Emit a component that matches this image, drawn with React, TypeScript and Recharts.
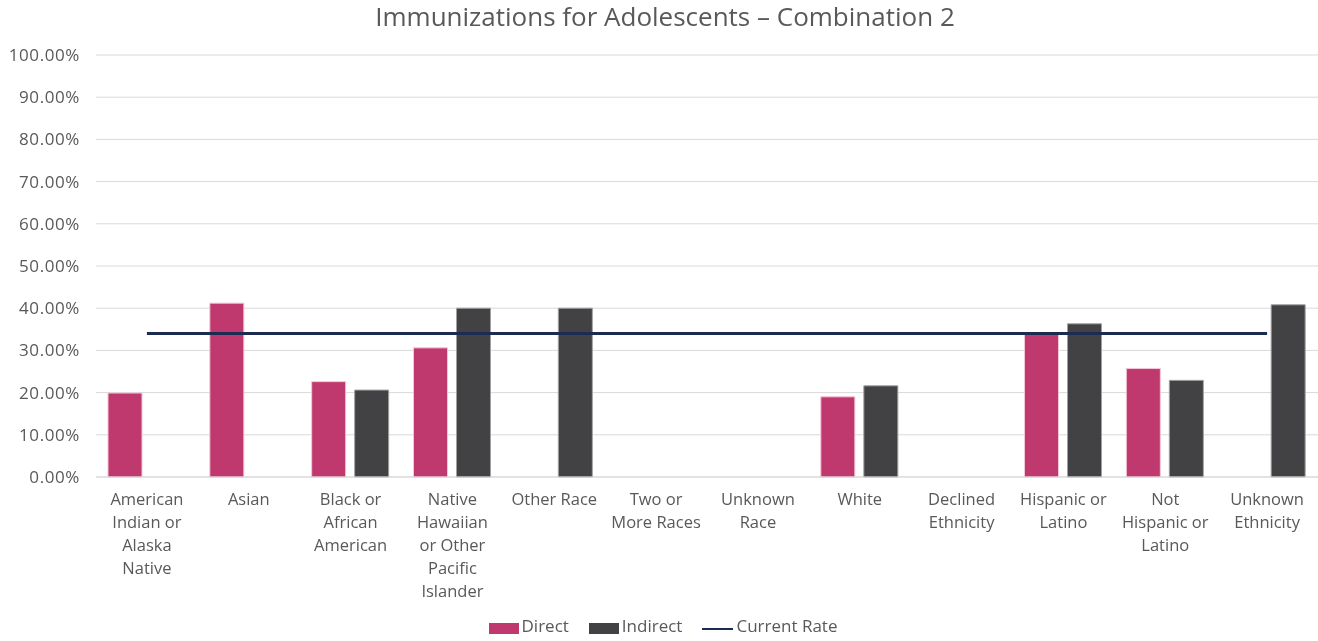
import {
  Bar,
  CartesianGrid,
  ComposedChart,
  Legend,
  Line,
  XAxis,
  YAxis,
} from "recharts";

const categories = [
  "American Indian or Alaska Native",
  "Asian",
  "Black or African American",
  "Native Hawaiian or Other Pacific Islander",
  "Other Race",
  "Two or More Races",
  "Unknown Race",
  "White",
  "Declined Ethnicity",
  "Hispanic or Latino",
  "Not Hispanic or Latino",
  "Unknown Ethnicity",
];

// How each category name breaks under its group
const tickLines: string[][] = [
  ["American", "Indian or", "Alaska", "Native"],
  ["Asian"],
  ["Black or", "African", "American"],
  ["Native", "Hawaiian", "or Other", "Pacific", "Islander"],
  ["Other Race"],
  ["Two or", "More Races"],
  ["Unknown", "Race"],
  ["White"],
  ["Declined", "Ethnicity"],
  ["Hispanic or", "Latino"],
  ["Not", "Hispanic or", "Latino"],
  ["Unknown", "Ethnicity"],
];

const direct: (number | null)[] = [
  0.199, 0.412, 0.226, 0.306, null, null, null, 0.19, null, 0.338, 0.257, null,
];
const indirect: (number | null)[] = [
  null, null, 0.206, 0.4, 0.4, null, null, 0.216, null, 0.363, 0.229, 0.408,
];
const currentRate = 0.34;

const yTicks = [0, 0.1, 0.2, 0.3, 0.4, 0.5, 0.6, 0.7, 0.8, 0.9, 1];

const rows = categories.map((name, i) => ({
  name,
  direct: direct[i],
  indirect: indirect[i],
  rate: currentRate,
}));

const FONT = "'Open Sans', sans-serif";
const TEXT = "#595959";
const PINK = "#c0396e";
const GREY = "#424244";
const NAVY = "#1b2b52";

function pct(v: number): string {
  return `${(v * 100).toFixed(2)}%`;
}

function CategoryTick(props: any) {
  const { x, y, index } = props;
  const lines = tickLines[index] ?? [];
  return (
    <text
      x={x}
      y={y}
      textAnchor="middle"
      fill={TEXT}
      fontSize={16.5}
      fontFamily={FONT}
    >
      {lines.map((l, i) => (
        <tspan key={i} x={x} dy={i === 0 ? 20 : 23}>
          {l}
        </tspan>
      ))}
    </text>
  );
}

const legendItems = [
  { label: "Direct", color: PINK, kind: "rect" },
  { label: "Indirect", color: GREY, kind: "rect" },
  { label: "Current Rate", color: NAVY, kind: "line" },
];

function LegendRow() {
  return (
    <div
      style={{
        display: "flex",
        justifyContent: "center",
        alignItems: "center",
        gap: 20,
        height: 24,
        paddingLeft: 8,
        fontSize: 17,
        fontFamily: FONT,
        color: TEXT,
      }}
    >
      {legendItems.map((it) => (
        <div key={it.label} style={{ display: "flex", alignItems: "center" }}>
          <span
            style={{
              display: "inline-block",
              width: it.kind === "rect" ? 30 : 31,
              height: it.kind === "rect" ? 11 : 2,
              marginTop: it.kind === "rect" ? 6 : 8,
              background: it.color,
            }}
          />
          <span style={{ marginLeft: 3 }}>{it.label}</span>
        </div>
      ))}
    </div>
  );
}

export default function App() {
  return (
    <div
      style={{
        position: "fixed",
        left: 0,
        top: 0,
        width: 1318,
        height: 641,
        background: "#fff",
        fontFamily: FONT,
      }}
    >
      <div
        style={{
          position: "absolute",
          top: 0,
          left: 0,
          width: 1306,
          paddingLeft: 12,
          textAlign: "center",
          fontSize: 26,
          color: TEXT,
          lineHeight: "32px",
          whiteSpace: "nowrap",
        }}
      >
        Immunizations for Adolescents – Combination 2
      </div>
      <ComposedChart
        width={1318}
        height={641}
        data={rows}
        margin={{ top: 55, right: 0, bottom: 4, left: 0 }}
        barGap={9}
      >
        <CartesianGrid vertical={false} stroke="#d9d9d9" strokeWidth={1} />
        <XAxis
          dataKey="name"
          interval={0}
          height={136}
          axisLine={{ stroke: "#d9d9d9" }}
          tickLine={false}
          tick={<CategoryTick />}
        />
        <YAxis
          domain={[0, 1]}
          ticks={yTicks}
          tickFormatter={pct}
          width={96}
          axisLine={false}
          tickLine={false}
          tickMargin={10}
          tick={{ fill: TEXT, fontSize: 17, fontFamily: FONT, letterSpacing: 0.6 }}
        />
        <Legend verticalAlign="bottom" content={<LegendRow />} />
        <Bar
          dataKey="direct"
          name="Direct"
          fill={PINK}
          stroke="#f3c6d6"
          strokeWidth={1}
          barSize={34}
          isAnimationActive={false}
        />
        <Bar
          dataKey="indirect"
          name="Indirect"
          fill={GREY}
          stroke="#a0a0a0"
          strokeWidth={1}
          barSize={34}
          isAnimationActive={false}
        />
        <Line
          dataKey="rate"
          name="Current Rate"
          type="linear"
          stroke={NAVY}
          strokeWidth={3}
          dot={false}
          activeDot={false}
          isAnimationActive={false}
        />
      </ComposedChart>
    </div>
  );
}
